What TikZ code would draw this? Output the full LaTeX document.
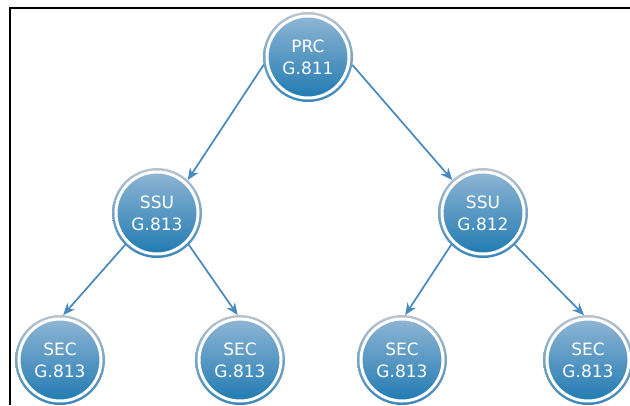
\documentclass[tikz,border=0pt]{standalone}
\usepackage{fontspec}
\setsansfont{DejaVu Sans}
\usetikzlibrary{arrows.meta}
\definecolor{balltop}{HTML}{94B8D6}
\definecolor{ballmid}{HTML}{438EC3}
\definecolor{ballbot}{HTML}{1B78B0}
\definecolor{ringtop}{HTML}{BAC4CE}
\definecolor{ringbot}{HTML}{3A86BA}
\definecolor{linkblue}{HTML}{4489C0}
\tikzset{
	ball/.style={circle, minimum size=90pt, inner sep=0pt, outer sep=0pt,
		top color=ringtop, bottom color=ringbot, text=white, align=center,
		font=\sffamily\fontsize{17}{22}\selectfont,
		path picture={\shade[top color=balltop, middle color=ballmid, bottom color=ballbot, draw=white, line width=3pt]
			(path picture bounding box.center) circle[radius=41pt];}},
	link/.style={draw=linkblue, line width=1.7pt, -{Stealth[length=12pt,width=10pt]}}
}
\begin{document}
\begin{tikzpicture}[x=1pt,y=-1pt]
	\useasboundingbox (0,0) rectangle (630,405);
	\draw[line width=1.8pt] (10,405) -- (10,8) -- (630,8);
	\node[ball] (prc) at (308,57) {PRC\\G.811};
	\node[ball] (ssua) at (157,213) {SSU\\G.813};
	\node[ball] (ssub) at (483,213) {SSU\\G.812};
	\node[ball] (seca) at (60,360) {SEC\\G.813};
	\node[ball] (secb) at (240,360) {SEC\\G.813};
	\node[ball] (secc) at (402,360) {SEC\\G.813};
	\node[ball] (secd) at (588,360) {SEC\\G.813};
	\draw[link] (prc.190) -- (ssua.47);
	\draw[link] (prc.-10) -- (ssub.133);
	\draw[link] (ssua.225) -- (seca.86);
	\draw[link] (ssua.-45) -- (secb.93);
	\draw[link] (ssub.225) -- (secc.86);
	\draw[link] (ssub.-45) -- (secd.95);
\end{tikzpicture}
\end{document}
